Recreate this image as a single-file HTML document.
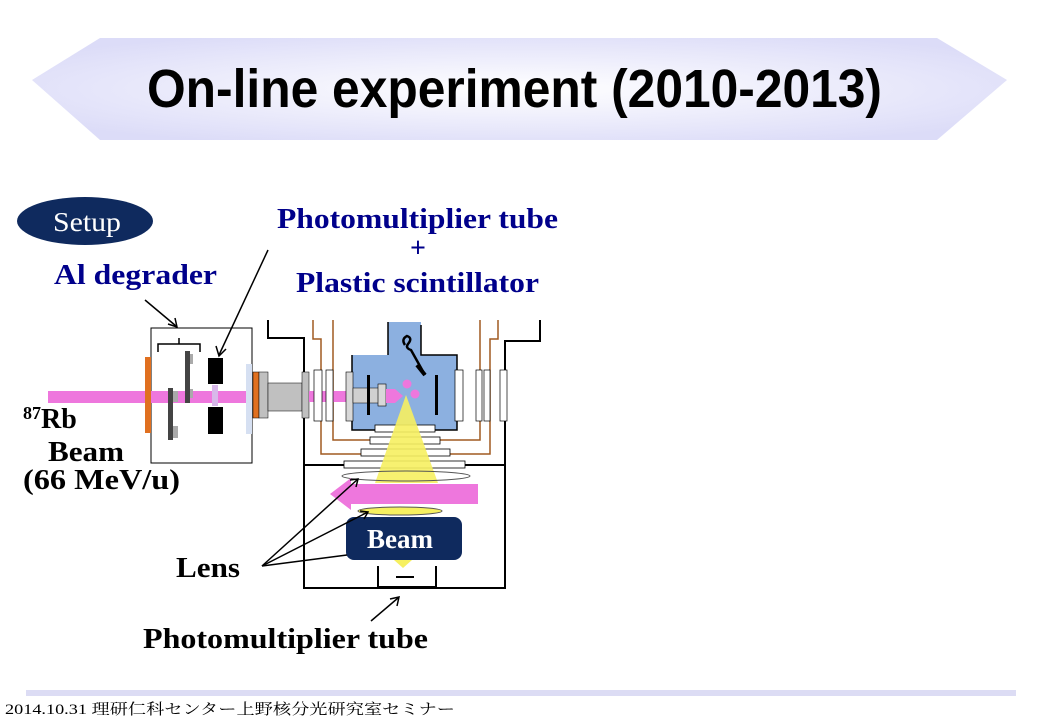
<!DOCTYPE html>
<html><head><meta charset="utf-8"><style>
html,body{margin:0;padding:0;background:#fff;}
svg{display:block;}
</style></head><body>
<svg width="1040" height="720" viewBox="0 0 1040 720" xmlns="http://www.w3.org/2000/svg">
<defs>
<radialGradient id="tg" cx="50%" cy="50%" r="60%">
<stop offset="0" stop-color="#ffffff"/><stop offset="1" stop-color="#dcdcf8"/>
</radialGradient>
</defs>
<polygon points="32,80 100,38 937,38 1007,80 937,140 100,140" fill="url(#tg)"/>
<text x="147" y="107" font-family="Liberation Sans, sans-serif" font-size="54" font-weight="bold" textLength="735" lengthAdjust="spacingAndGlyphs">On-line experiment (2010-2013)</text>

<ellipse cx="85" cy="221" rx="68" ry="24" fill="#0f2a5e"/>
<text x="53" y="231" font-family="Liberation Serif, serif" font-size="27" fill="#fff" textLength="68" lengthAdjust="spacingAndGlyphs">Setup</text>

<g font-family="Liberation Serif, serif" font-weight="bold" fill="#00008b" font-size="28">
<text x="277" y="228" textLength="281" lengthAdjust="spacingAndGlyphs">Photomultiplier tube</text>
<text x="418" y="257" text-anchor="middle">+</text>
<text x="296" y="292" textLength="243" lengthAdjust="spacingAndGlyphs">Plastic scintillator</text>
<text x="54" y="284" textLength="163" lengthAdjust="spacingAndGlyphs">Al degrader</text>
</g>
<g font-family="Liberation Serif, serif" font-weight="bold" fill="#000" font-size="28">
<text x="23" y="428"><tspan font-size="18" dy="-9">87</tspan><tspan dy="9">Rb</tspan></text>
<text x="48" y="461" textLength="76" lengthAdjust="spacingAndGlyphs">Beam</text>
<text x="23" y="489" textLength="157" lengthAdjust="spacingAndGlyphs">(66 MeV/u)</text>
<text x="176" y="577" textLength="64" lengthAdjust="spacingAndGlyphs">Lens</text>
<text x="143" y="648" textLength="285" lengthAdjust="spacingAndGlyphs">Photomultiplier tube</text>
</g>

<!-- degrader box -->
<rect x="151" y="328" width="101" height="135" fill="#fff" stroke="#000" stroke-width="1"/>
<path d="M158,352 V344 H200 V352 M179,344 V338" stroke="#000" stroke-width="1.5" fill="none"/>
<rect x="48" y="391" width="199" height="12" fill="#ee77dd"/>
<rect x="145" y="357" width="6" height="76" fill="#e07020"/>
<rect x="168" y="388" width="5" height="52" fill="#444"/>
<rect x="173" y="391" width="5" height="11" fill="#aaa"/>
<rect x="173" y="426" width="5" height="12" fill="#aaa"/>
<rect x="185" y="351" width="5" height="52" fill="#444"/>
<rect x="190" y="354" width="3" height="10" fill="#aaa"/>
<rect x="190" y="389" width="3" height="9" fill="#aaa"/>
<rect x="208" y="358" width="15" height="26" fill="#000"/>
<rect x="208" y="407" width="15" height="27" fill="#000"/>
<rect x="212" y="385" width="6" height="21" fill="#d8b8ea"/>
<rect x="246" y="364" width="6" height="70" fill="#d6e0f2"/>
<rect x="253" y="372" width="6" height="46" fill="#e07020" stroke="#000" stroke-width="0.5"/>
<rect x="259" y="372" width="9" height="46" fill="#c0c0c0" stroke="#000" stroke-width="0.5"/>
<rect x="268" y="383" width="34" height="28" fill="#c0c0c0" stroke="#000" stroke-width="0.5"/>

<!-- chamber outline -->
<g stroke="#000" stroke-width="2" fill="none">
<polyline points="268,320 268,338 304,338 304,588 505,588 505,341 540,341 540,320"/>
<line x1="304" y1="465" x2="505" y2="465"/>
</g>
<g stroke="#a05a20" stroke-width="1.5" fill="none">
<polyline points="313,320 313,339 321,339 321,454 361,454"/>
<polyline points="333,320 333,440 370,440"/>
<polyline points="498,320 498,339 490,339 490,454 450,454"/>
<polyline points="480,320 480,440 440,440"/>
</g>
<rect x="302" y="372" width="7" height="46" fill="#c0c0c0" stroke="#000" stroke-width="0.5"/>
<rect x="309" y="391" width="37" height="11" fill="#ee77dd"/>
<rect x="314" y="370" width="8" height="51" fill="#fff" stroke="#000" stroke-width="0.7"/>
<rect x="326" y="370" width="7" height="51" fill="#fff" stroke="#000" stroke-width="0.7"/>
<path d="M352,355 H388 V322 H421 V355 H457 V430 H352 Z" fill="#8cb0e0"/>
<path d="M421,325 V355 H457 V430 H352 V355" stroke="#000" stroke-width="1.5" fill="none"/>
<line x1="388" y1="322" x2="388" y2="355" stroke="#000" stroke-width="1.5"/>
<rect x="346" y="372" width="7" height="49" fill="#d8d8d8" stroke="#000" stroke-width="0.6"/>
<rect x="353" y="388" width="27" height="15" fill="#d0d0d0" stroke="#000" stroke-width="0.5"/>
<rect x="378" y="384" width="8" height="22" fill="#d8d8d8" stroke="#000" stroke-width="0.6"/>
<rect x="367" y="375" width="3" height="40" fill="#000"/>
<rect x="435" y="375" width="3" height="40" fill="#000"/>
<polygon points="386,389 395,389 403,396 395,403 386,403" fill="#ee77dd"/>
<circle cx="407" cy="384" r="4.5" fill="#ee77dd"/>
<circle cx="415" cy="394" r="4.5" fill="#ee77dd"/>
<path d="M405,345 q-4,-6 2,-9 q6,2 1,8 q-3,4 3,6 L425,375" stroke="#000" stroke-width="2.5" fill="none"/>
<line x1="417" y1="365" x2="425" y2="375" stroke="#000" stroke-width="4"/>
<rect x="455" y="370" width="8" height="51" fill="#fff" stroke="#000" stroke-width="0.7"/>
<rect x="476" y="370" width="6" height="51" fill="#fff" stroke="#000" stroke-width="0.7"/>
<rect x="484" y="370" width="6" height="51" fill="#fff" stroke="#000" stroke-width="0.7"/>
<rect x="500" y="370" width="7" height="51" fill="#fff" stroke="#000" stroke-width="0.7"/>
<rect x="375" y="425" width="60" height="7" fill="#fff" stroke="#000" stroke-width="0.8"/>
<rect x="370" y="437" width="70" height="7" fill="#fff" stroke="#000" stroke-width="0.8"/>
<rect x="361" y="449" width="89" height="7" fill="#fff" stroke="#000" stroke-width="0.8"/>
<rect x="344" y="461" width="121" height="7" fill="#fff" stroke="#000" stroke-width="0.8"/>
<polygon points="406,395 375,483 438,483" fill="#f6f060" opacity="0.9"/>
<ellipse cx="406" cy="476" rx="64" ry="5" fill="none" stroke="#555" stroke-width="1"/>
<polygon points="478,484 351,484 351,478 330,494 351,510 351,504 478,504" fill="#ee77dd"/>
<ellipse cx="400" cy="511" rx="42" ry="4" fill="#f6f060" stroke="#555" stroke-width="1"/>
<rect x="346" y="517" width="116" height="43" rx="8" fill="#0f2a5e"/>
<text x="400" y="548" text-anchor="middle" font-family="Liberation Serif, serif" font-weight="bold" font-size="27" fill="#fff">Beam</text>
<polygon points="394,560 412,560 403,568" fill="#f6f060"/>
<polyline points="378,566 378,587 436,587 436,566" fill="none" stroke="#000" stroke-width="2"/>
<line x1="396" y1="577" x2="414" y2="577" stroke="#000" stroke-width="2"/>

<!-- arrows (on top) -->
<g stroke="#000" stroke-width="1.5" fill="none">
<line x1="145" y1="300" x2="176" y2="326"/><polyline points="168,324 177,327 175,318"/>
<line x1="268" y1="250" x2="219" y2="355"/><polyline points="216,346 219,356 226,349"/>
<line x1="262" y1="566" x2="358" y2="479"/><polyline points="350,480 358,479 356,487"/>
<line x1="262" y1="566" x2="368" y2="512"/><polyline points="360,511 368,512 364,519"/>
<line x1="262" y1="566" x2="347" y2="555"/>
<line x1="371" y1="621" x2="398" y2="598"/><polyline points="390,599 399,597 397,606"/>
</g>

<rect x="26" y="690" width="990" height="6" fill="#dcdcf4"/>
<text x="5" y="714" font-family="Liberation Serif, 'Noto Serif CJK SC', serif" font-size="15" textLength="450" lengthAdjust="spacingAndGlyphs">2014.10.31 理研仁科センター上野核分光研究室セミナー</text>
</svg>
</body></html>
